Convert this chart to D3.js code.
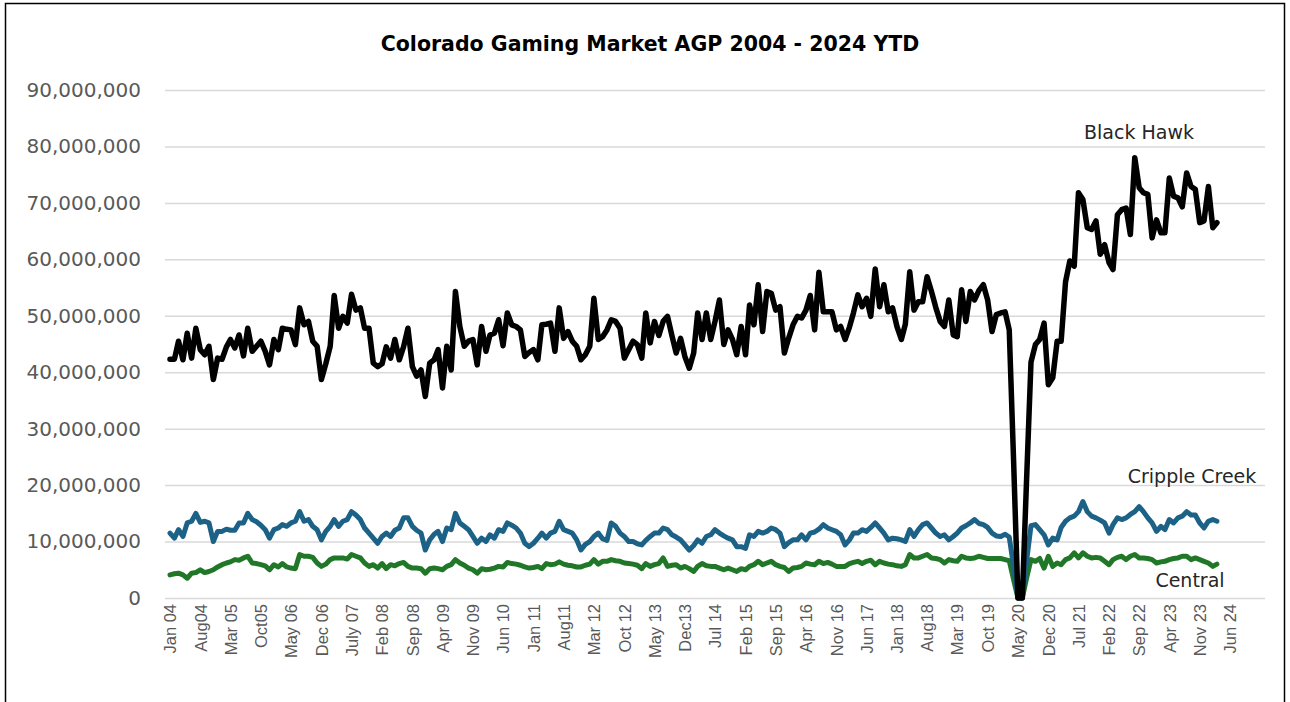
<!DOCTYPE html>
<html>
<head>
<meta charset="utf-8">
<script src="https://cdn.jsdelivr.net/npm/d3@7"></script>
<style>
  body { margin: 0; background: #fff; }
  svg { display: block; }
</style>
</head>
<body>
<svg id="chart" width="1290" height="702"></svg>
<script>
// monthly AGP, Jan 2004 .. Mar 2024, in millions
const blackHawk = [
  42.3,42.3,45.5,42.2,46.9,42.5,47.8,44,43.1,44.6,
  38.7,42.5,42.3,44.5,45.8,44.3,46.6,42.9,47.8,43.7,
  44.6,45.5,43.7,41.3,45.8,44,47.8,47.6,47.5,44.9,
  51.4,48.4,49,45.5,44.6,38.7,41.5,44.6,53.6,47.8,
  49.9,48.7,53.8,51,51.4,47.8,47.8,41.6,41,41.5,
  44.5,42.5,45.8,42.2,44.5,47.8,41,39.3,40.4,35.7,
  41.6,42.2,44,37.2,44.6,40.4,54.3,48.1,44.6,45.5,
  45.8,41.3,48.1,43.7,46.6,46.9,49.3,44.7,50.5,48.4,
  48.1,47.5,42.8,43.5,44,42.2,48.4,48.5,48.7,43.7,
  51.4,46,47.2,45.5,44.6,42.2,43.1,44.6,53.1,45.8,
  46.3,47.5,49.3,49,47.8,42.5,44,45.5,44.9,42.5,
  50.5,45.2,49,46.5,49,49.9,46.5,43.4,46,42.8,
  40.7,43.4,50.5,45.8,50.5,45.8,49,52.8,44.9,47.5,
  45.8,43.1,48.1,43.1,51.9,48.4,55.5,47.2,54.3,54,
  51,51.6,43.4,46,48.4,49.9,49.6,51,53.6,47.5,
  57.7,50.7,50.7,50.7,47.5,48.1,45.8,48,50.5,53.7,
  51.6,53.1,49.9,58.3,51.6,55.5,50.7,51.4,48.1,45.8,
  48.5,57.8,51,52.5,52.5,56.9,54.3,51.5,49,48.1,
  52.8,46.6,46.3,54.6,49,54.3,52.8,54.5,55.5,52.8,
  47.2,50.2,50.5,50.7,47.5,24,0,0,21,41.8,
  44.9,45.8,48.7,37.8,39,45.5,45.5,56,59.7,58.8,
  71.8,70.6,65.6,65.3,66.8,60.9,62.6,59.4,58.2,67.9,
  68.8,69.1,64.4,78,72.7,71.8,71.5,63.8,67,64.7,
  64.7,74.4,71.2,70.9,69.3,75.3,72.9,72.4,66.5,66.8,
  72.9,65.6,66.5
];
const crippleCreek = [
  11.5,10.6,12.1,10.9,13.3,13.6,15.0,13.4,13.6,13.3,
  10.0,11.8,11.8,12.2,12.0,12.0,13.3,13.3,15.0,13.9,
  13.5,12.9,12.1,10.6,12.1,12.4,13.0,12.7,13.3,13.6,
  15.3,13.6,13.9,12.7,12.1,10.3,11.8,12.7,13.9,12.7,
  13.6,13.9,15.3,14.7,13.9,12.4,11.5,10.6,9.7,10.9,
  11.5,10.9,12.0,12.4,14.2,14.2,12.7,12.0,11.5,8.5,
  10.3,11.3,11.8,10.0,12.4,12.1,15.0,13.3,12.7,12.1,
  10.9,9.7,10.6,10.0,11.2,10.6,12.1,11.8,13.3,12.9,
  12.4,11.5,9.7,9.1,9.7,10.6,11.5,10.6,11.5,11.8,
  13.6,12.1,11.8,11.5,10.3,8.5,9.5,10.0,10.9,11.5,
  10.5,10.2,13.3,12.7,11.5,10.9,10.0,10.0,9.6,9.4,
  10.2,10.9,11.5,11.5,12.4,12.1,11.2,10.8,10.3,9.4,
  8.5,9.3,10.3,9.7,10.9,11.2,12.1,11.5,11.0,10.6,
  10.3,9.1,9.1,8.8,11.2,10.9,11.8,11.5,11.8,12.4,
  12.1,11.5,9.1,9.8,10.3,10.3,11.2,10.3,11.5,11.7,
  12.2,13.0,12.4,12.1,11.8,11.2,9.4,10.3,11.5,11.5,
  12.1,11.8,12.5,13.3,12.4,11.5,10.3,10.6,10.5,10.3,
  10.0,12.1,10.9,12.1,13.0,13.3,12.4,11.5,10.9,11.2,
  10.3,10.9,11.5,12.4,12.8,13.3,13.9,13.2,13.0,12.5,
  11.5,11.0,10.9,11.3,10.8,5.5,0,0,6.5,12.8,
  13.0,12.1,11.2,9.4,10.6,10.3,12.5,13.6,14.2,14.5,
  15.3,17.1,15.3,14.5,14.2,13.8,13.3,11.5,13.0,14.2,
  13.9,14.2,14.8,15.3,16.2,15.3,14.2,13.3,11.8,12.7,
  12.1,13.9,13.3,14.2,14.5,15.3,14.7,14.7,13.3,12.4,
  13.6,13.9,13.6
];
const central = [
  4.1,4.3,4.4,4.1,3.5,4.4,4.5,5.0,4.5,4.7,
  5.0,5.5,5.9,6.2,6.4,6.8,6.7,7.1,7.4,6.2,
  6.1,5.9,5.7,5.0,5.9,5.5,6.1,5.5,5.3,5.2,
  7.7,7.4,7.4,7.2,6.2,5.6,6.0,6.8,7.1,7.1,
  7.1,6.9,7.7,7.4,7.1,6.2,5.6,5.9,5.3,6.1,
  5.2,5.9,5.7,6.1,6.3,5.6,5.3,5.3,5.2,4.4,
  5.2,5.3,5.2,5.0,5.6,5.9,6.8,6.2,5.8,5.3,
  5.0,4.4,5.2,5.0,5.1,5.3,5.6,5.5,6.3,6.1,
  6.0,5.8,5.5,5.3,5.4,5.6,5.2,6.1,5.9,6.0,
  6.4,6.0,5.8,5.7,5.5,5.5,5.8,6.0,6.8,6.0,
  6.5,6.5,6.8,6.6,6.5,6.2,6.1,6.0,5.8,5.2,
  6.1,5.6,5.9,6.1,7.1,5.6,5.8,5.9,5.3,5.6,
  5.2,4.7,5.6,6.1,5.7,5.6,5.6,5.3,5.0,5.3,
  5.0,4.7,5.2,5.0,5.6,5.9,6.5,5.9,6.2,6.5,
  5.9,5.6,5.4,4.7,5.3,5.4,5.6,6.2,6.0,5.9,
  6.5,6.1,6.3,6.0,5.6,5.6,5.6,6.1,6.3,6.5,
  6.1,6.5,6.7,5.9,6.5,6.2,6.0,5.9,5.7,5.6,
  5.9,7.7,7.1,7.1,7.4,7.7,7.1,7.0,6.8,6.2,
  6.8,6.6,6.5,7.4,7.1,7.0,7.1,7.4,7.2,7.0,
  7.0,7.0,7.0,6.8,6.6,3.2,0,0,3.5,6.8,
  6.5,7.0,5.3,7.4,5.6,6.2,5.9,6.8,7.1,8.0,
  7.1,8.0,7.4,7.1,7.2,7.1,6.5,5.9,6.8,7.2,
  7.4,6.8,7.4,7.7,7.1,7.1,7.0,6.8,6.2,6.4,
  6.5,6.8,7.0,7.1,7.4,7.4,6.8,7.1,6.8,6.5,
  6.2,5.6,6.0
];
const tickLabels = ["Jan 04","Aug04","Mar 05","Oct05","May 06","Dec 06","July 07","Feb 08",
  "Sep 08","Apr 09","Nov 09","Jun 10","Jan 11","Aug11","Mar 12","Oct 12","May 13","Dec13",
  "Jul 14","Feb 15","Sep 15","Apr 16","Nov 16","Jun 17","Jan 18","Aug18","Mar 19","Oct 19",
  "May 20","Dec 20","Jul 21","Feb 22","Sep 22","Apr 23","Nov 23","Jun 24"];
const yTicks = [0,10,20,30,40,50,60,70,80,90];

const svg = d3.select("#chart");
const axisColor = "#595959";
const start = new Date(2004, 0, 1);

// frame
svg.append("rect")
    .attr("x", 5.5).attr("y", 3.5)
    .attr("width", 1279).attr("height", 740)
    .attr("fill", "none").attr("stroke", "#000").attr("stroke-width", 1.5);

const months = blackHawk.map((d, i) => d3.timeMonth.offset(start, i));
// a label every 7 months
const tickDates = tickLabels.map((d, i) => d3.timeMonth.offset(start, 7 * i));

const x = d3.scaleTime()
    .domain([start, new Date(2024, 5, 1)])
    .range([170, 1230]);
const y = d3.scaleLinear()
    .domain([0, 90])
    .range([598, 90]);

// gridlines + y labels
const yAxis = svg.append("g")
    .attr("transform", "translate(165,0)")
    .call(d3.axisLeft(y).tickValues(yTicks).tickSize(-1100)
        .tickFormat(d => d3.format(",")(d * 1e6)));
yAxis.select(".domain").remove();
yAxis.selectAll(".tick line").attr("stroke", "#d9d9d9").attr("stroke-width", 1.5);
yAxis.selectAll(".tick text")
    .attr("x", -24)
    .attr("fill", axisColor)
    .style("font-family", "'DejaVu Sans', sans-serif")
    .style("font-size", "20px");

// x labels, rotated
const xAxis = svg.append("g")
    .attr("transform", "translate(0,598)")
    .call(d3.axisBottom(x).tickValues(tickDates).tickSize(0)
        .tickFormat((d, i) => tickLabels[i]));
xAxis.select(".domain").remove();
xAxis.selectAll(".tick text")
    .attr("transform", "rotate(-90)")
    .attr("x", -6).attr("y", 0).attr("dy", "0.35em")
    .attr("text-anchor", "end")
    .attr("fill", axisColor)
    .style("font-family", "'Liberation Sans', Arial, sans-serif")
    .style("font-size", "16.5px");

const line = d3.line()
    .x((d, i) => x(months[i]))
    .y(d => y(d));

const series = [
  { values: central, color: "#217728", width: 5 },
  { values: crippleCreek, color: "#1c6186", width: 5 },
  { values: blackHawk, color: "#000000", width: 5.5 }
];
svg.selectAll(".series")
    .data(series)
    .enter()
    .append("path")
    .attr("class", "series")
    .attr("d", d => line(d.values))
    .attr("fill", "none")
    .attr("stroke", d => d.color)
    .attr("stroke-width", d => d.width)
    .attr("stroke-linejoin", "round")
    .attr("stroke-linecap", "round");

// title
svg.append("text")
    .attr("x", 650).attr("y", 51)
    .attr("text-anchor", "middle")
    .style("font-family", "'DejaVu Sans', sans-serif")
    .style("font-weight", "bold")
    .style("font-size", "20.5px")
    .attr("fill", "#000")
    .text("Colorado Gaming Market AGP 2004 - 2024 YTD");

// series labels
const labels = [
  { text: "Black Hawk", x: 1139, y: 139 },
  { text: "Cripple Creek", x: 1192, y: 483 },
  { text: "Central", x: 1190, y: 587 }
];
svg.selectAll(".slabel")
    .data(labels)
    .enter()
    .append("text")
    .attr("class", "slabel")
    .attr("x", d => d.x).attr("y", d => d.y)
    .attr("text-anchor", "middle")
    .style("font-family", "'DejaVu Sans', sans-serif")
    .style("font-size", "19px")
    .attr("fill", "#262626")
    .text(d => d.text);
</script>
</body>
</html>
